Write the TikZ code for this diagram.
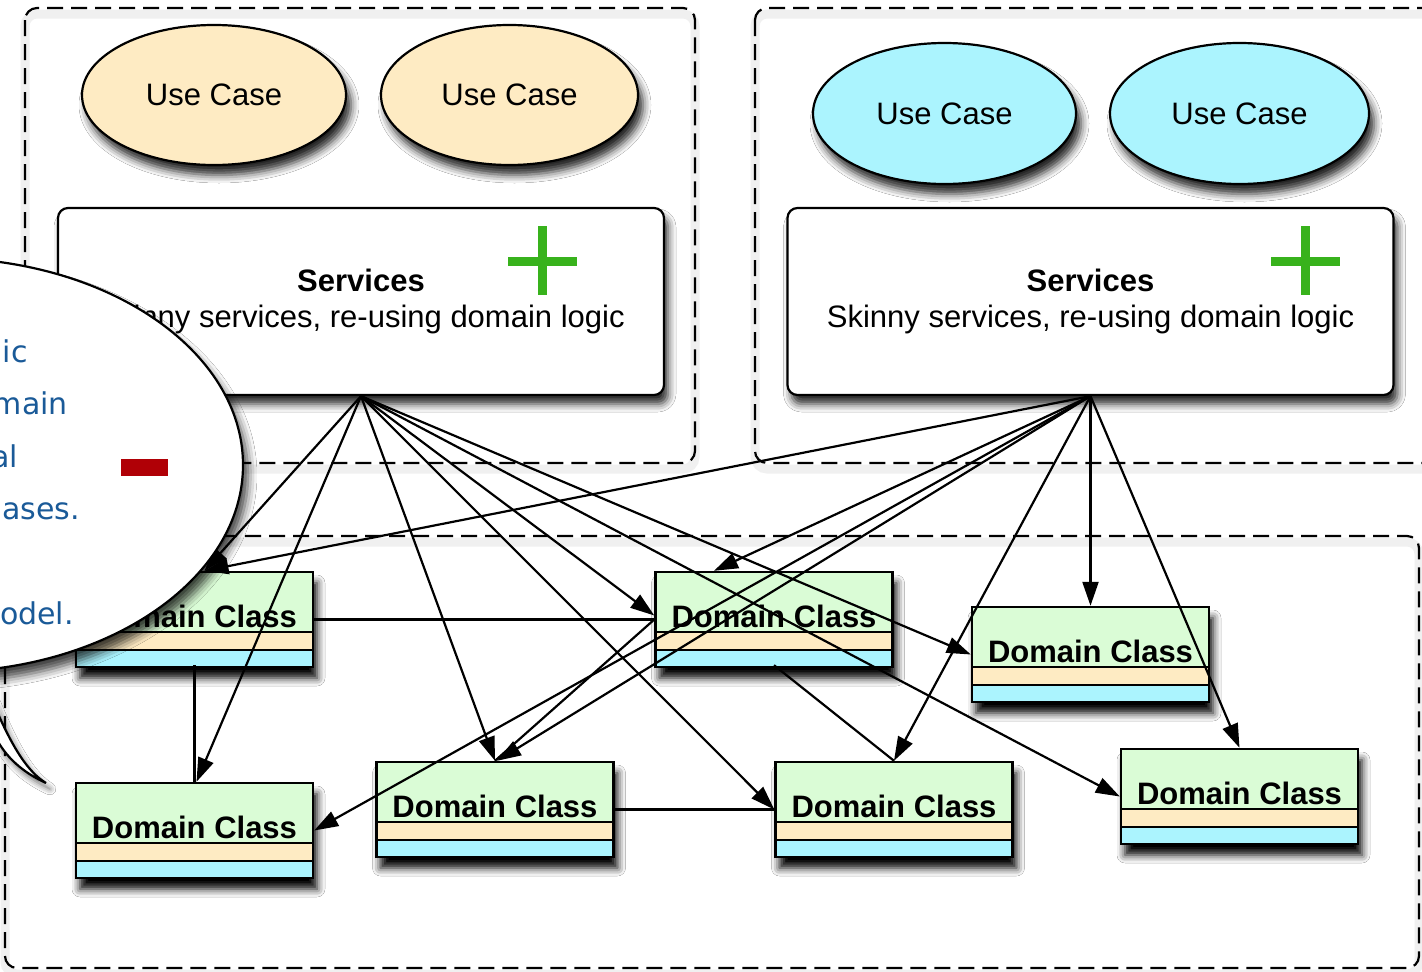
\documentclass[tikz,border=0pt]{standalone}
\usepackage{fontspec}
\setmainfont{Liberation Sans}
\newfontfamily\bubblefont{DejaVu Sans}
\usetikzlibrary{arrows.meta,shapes.geometric,shadows.blur}
\definecolor{ucorange}{HTML}{FEEBC3}
\definecolor{uccyan}{HTML}{ABF4FE}
\definecolor{dgreen}{HTML}{DAFCD6}
\definecolor{plusgreen}{HTML}{38B21C}
\definecolor{minusred}{HTML}{B00006}
\definecolor{bubbleblue}{HTML}{1A5A98}
\newcommand\dclassnode[3]{%
  \node[dclass] (#1) at (#2,#3) {};
  \node[dtext] (#1t) at ([yshift=52pt]#1.south) {Domain Class};}
\begin{document}
\begin{tikzpicture}[x=1pt,y=-1pt,
  container/.style={draw=black, line width=2.2pt, dash pattern=on 16pt off 8pt, rounded corners=12pt},
  cshadow/.style={draw=black!6, line width=9pt, rounded corners=12pt},
  usecase/.style={ellipse, draw=black, line width=2.2pt, inner sep=0pt,
    font=\fontsize{31}{37}\selectfont,
    blur shadow={shadow xshift=5pt, shadow yshift=-10pt, shadow opacity=85, shadow blur radius=8pt}},
  svc/.style={rectangle, rounded corners=10pt, draw=black, line width=2.2pt, fill=white,
    minimum width=606pt, minimum height=187pt, align=center, inner sep=0pt,
    font=\fontsize{31}{36}\selectfont,
    blur shadow={shadow xshift=4pt, shadow yshift=-9pt, shadow opacity=85, shadow blur radius=8pt}},
  dclass/.style={rectangle, draw=black, line width=2.4pt, fill=dgreen, inner sep=0pt,
    minimum width=237pt, minimum height=95pt,
    blur shadow={shadow xshift=4pt, shadow yshift=-11pt, shadow opacity=100, shadow blur radius=8pt},
    path picture={
      \fill[uccyan] (path picture bounding box.south west) rectangle ([yshift=17pt]path picture bounding box.south east);
      \fill[ucorange] ([yshift=17pt]path picture bounding box.south west) rectangle ([yshift=35pt]path picture bounding box.south east);
      \draw[line width=2.2pt] ([yshift=17pt]path picture bounding box.south west) -- ([yshift=17pt]path picture bounding box.south east);
      \draw[line width=2.2pt] ([yshift=35pt]path picture bounding box.south west) -- ([yshift=35pt]path picture bounding box.south east);
    }},
  dtext/.style={inner sep=0pt, font=\fontsize{31}{36}\selectfont\bfseries},
  conn/.style={draw=black, line width=2.2pt, -{Triangle[length=24pt,width=16pt]}},
  assoc/.style={draw=black, line width=2.2pt},
  btext/.style={anchor=base east, inner sep=0pt, text=bubbleblue, font=\bubblefont\fontsize{30}{36}\selectfont}
]
\useasboundingbox (0,0) rectangle (1422,972);
\clip (0,0) rectangle (1422,972);
\fill[white] (0,0) rectangle (1422,972);

% containers
\draw[cshadow] (25,14) rectangle (695,469);
\draw[cshadow] (755,14) rectangle (1445,469);
\draw[cshadow] (5,542) rectangle (1419,974);
\draw[container] (25,8) rectangle (695,463);
\draw[container] (755,8) rectangle (1445,463);
\draw[container] (5,536) rectangle (1419,968);

% use cases
\node[usecase, fill=ucorange, minimum width=264pt, minimum height=140pt] (uc1) at (214,95) {Use Case};
\node[usecase, fill=ucorange, minimum width=257pt, minimum height=140pt] (uc2) at (509.5,95) {Use Case};
\node[usecase, fill=uccyan, minimum width=263pt, minimum height=141pt] (uc3) at (944.5,113.5) {Use Case};
\node[usecase, fill=uccyan, minimum width=259pt, minimum height=141pt] (uc4) at (1239.5,113.5) {Use Case};

% services
\node[svc] (s1) at (361,301.5) {\textbf{Services}\\Skinny services, re-using domain logic};
\node[svc] (s2) at (1090.5,301.5) {\textbf{Services}\\Skinny services, re-using domain logic};
\fill[plusgreen] (538,226) rectangle (547,295);
\fill[plusgreen] (508,257) rectangle (577,266);
\fill[plusgreen] (1301,226) rectangle (1310,295);
\fill[plusgreen] (1271,257) rectangle (1340,266);

% domain classes
\dclassnode{d1}{194.5}{619.5}
\dclassnode{d2}{774}{619.5}
\dclassnode{d3}{1090.5}{654.5}
\dclassnode{d4}{194.5}{830.5}
\dclassnode{d5}{495}{809.5}
\dclassnode{d6}{894}{809.5}
\dclassnode{d7}{1239.5}{796.5}

% associations between domain classes
\draw[assoc] ([yshift=3pt]d1.south) -- (d4.north);
\draw[assoc] (d1.east) -- (d2.west);
\draw[assoc] (d2.west) -- (d5.north);
\draw[assoc] (d5.east) -- (d6.west);
\draw[assoc] ([yshift=3pt]d2.south) -- (d6.north);

% connectors from services (left)
\draw[conn] (s1.south) -- ([xshift=10pt]d1.north);
\draw[conn] (s1.south) -- ([xshift=2pt]d4.north);
\draw[conn] (s1.south) -- (d5.north);
\draw[conn] (s1.south) -- (d6.west);
\draw[conn] (s1.south) -- ([yshift=4pt]d2.west);
\draw[conn] (s1.south) -- (d3.west);
\draw[conn] (s1.south) -- (d7.west);

% connectors from services (right)
\draw[conn] (s2.south) -- ([xshift=10pt]d1.north);
\draw[conn] (s2.south) -- ([xshift=-60pt]d2.north);
\draw[conn] (s2.south) -- ([xshift=2pt]d5.north);
\draw[conn] (s2.south) -- (d4.east);
\draw[conn] (s2.south) -- (d6.north);
\draw[conn] (s2.south) -- (d3.north);
\draw[conn] (s2.south) -- (d7.north);

% callout bubble
\node[ellipse, draw=black, line width=2.2pt, fill=white, inner sep=0pt,
  minimum width=606pt, minimum height=414pt,
  blur shadow={shadow xshift=5pt, shadow yshift=-10pt, shadow opacity=75, shadow blur radius=9pt}] (bubble) at (-60,465) {};
\draw[line width=2.2pt, fill=white,
  blur shadow={shadow xshift=4pt, shadow yshift=-6pt, shadow opacity=60, shadow blur radius=6pt}]
  (-40,630) .. controls (-12,680) and (8,760) .. (46,783)
  .. controls (22,772) and (6,757) .. (-4,738) -- (-40,700) -- cycle;
\node[btext] (b1) at (28,362) {ic};
\node[btext] (b2) at (68,414.5) {main};
\node[btext] (b3) at (18,467) {al};
\node[btext] (b4) at (80,519.5) {ases.};
\node[btext] (b5) at (74,624.5) {odel.};
\node[fill=minusred, inner sep=0pt, minimum width=47pt, minimum height=17pt] (minus) at (144.5,467.5) {};
\end{tikzpicture}
\end{document}
